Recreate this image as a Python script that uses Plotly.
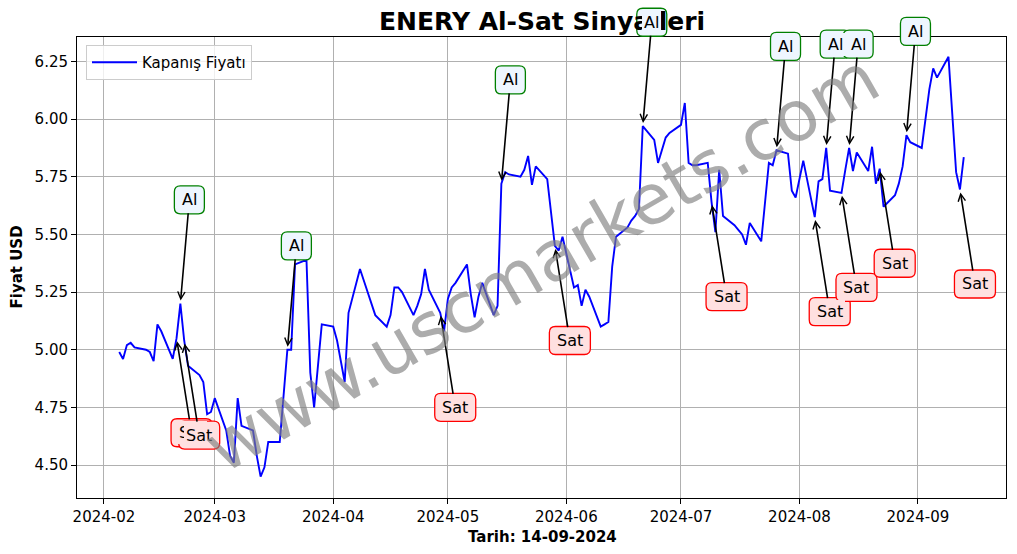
import pandas as pd
import plotly.graph_objects as go

# ---------------- data ----------------
feb = [4.99, 4.96, 5.02, 5.03, 5.01, 5.00, 4.99, 4.95, 5.11, 5.08,
       4.96, 5.05, 5.20, 5.04, 4.93, 4.89, 4.86, 4.72, 4.73]
mar = [4.79, 4.65, 4.54, 4.51, 4.79, 4.67, 4.65, 4.54, 4.45, 4.49,
       4.60, 4.60, 4.80, 5.00, 5.00, 5.37, 5.39, 4.90, 4.75, 4.93, 5.11]
apr = [5.10, 5.04, 4.95, 4.86, 5.16, 5.35, 5.30, 5.25, 5.20, 5.15,
       5.10, 5.15, 5.27, 5.27, 5.25, 5.15, 5.19, 5.24, 5.35, 5.26,
       5.16, 5.08]
may = [5.22, 5.27, 5.29, 5.37, 5.24, 5.14, 5.23, 5.29, 5.15, 5.19,
       5.72, 5.77, 5.76, 5.75, 5.78, 5.84, 5.715, 5.795, 5.74, 5.60,
       5.45, 5.43, 5.49]
jun = [5.27, 5.28, 5.19, 5.26, 5.23, 5.10, 5.11, 5.12, 5.36, 5.49,
       5.53, 5.56, 5.58, 5.61, 5.97, 5.91, 5.81, 5.86, 5.92, 5.94]
jul = [5.975, 6.07, 5.81, 5.80, 5.80, 5.81, 5.64, 5.51, 5.78, 5.58,
       5.54, 5.52, 5.50, 5.455, 5.55, 5.47, 5.64, 5.81, 5.80, 5.865,
       5.85, 5.69, 5.66]
aug = [5.74, 5.82, 5.575, 5.73, 5.74, 5.875, 5.69, 5.68, 5.78, 5.875,
       5.775, 5.855, 5.775, 5.88, 5.72, 5.785, 5.62, 5.67, 5.72, 5.795,
       5.93, 5.90]
sep = [5.875, 6.01, 6.13, 6.22, 6.18, 6.27, 6.00, 5.77, 5.695, 5.835]

first_day = "2024-02-05"
last_day = "2024-09-13"

al_dates = ["2024-02-21", "2024-03-20", "2024-05-15", "2024-06-21",
            "2024-07-26", "2024-08-08", "2024-08-14", "2024-08-29"]
sat_dates = ["2024-02-20", "2024-02-22", "2024-04-29", "2024-05-29",
             "2024-07-09", "2024-08-05", "2024-08-12", "2024-08-22",
             "2024-09-12"]

title_text = "ENERY Al-Sat Sinyalleri"
x_title = "Tarih: 14-09-2024"
y_title = "Fiyat USD"
legend_name = "Kapanış Fiyatı"
watermark = "www.uscmarkets.com"
y_ticks = [4.50, 4.75, 5.00, 5.25, 5.50, 5.75, 6.00, 6.25]

# ---------------- figure ----------------
dates = pd.bdate_range(first_day, last_day)
close = feb + mar + apr + may + jun + jul + aug + sep
series = pd.Series(close, index=dates)

W, H = 1017, 554
ML, MR, MT, MB = 77, 11, 37, 56
plot_w = W - ML - MR
plot_h = H - MT - MB
x_range = [pd.Timestamp("2024-01-24 22:48"), pd.Timestamp("2024-09-24 01:12")]
y_range = [4.357, 6.356]
px_per_unit = plot_h / (y_range[1] - y_range[0])

FONT = "DejaVu Sans"


def x_frac(ts):
    return (ts - x_range[0]) / (x_range[1] - x_range[0])


def y_frac(v):
    return (v - y_range[0]) / (y_range[1] - y_range[0])


def rounded_box(cx, cy, w, h, r):
    """SVG path (pixel offsets, y up) of a rounded rectangle."""
    x0, x1 = cx - w / 2, cx + w / 2
    y0, y1 = cy - h / 2, cy + h / 2
    return (f"M{x0 + r},{y0} L{x1 - r},{y0} Q{x1},{y0} {x1},{y0 + r} "
            f"L{x1},{y1 - r} Q{x1},{y1} {x1 - r},{y1} "
            f"L{x0 + r},{y1} Q{x0},{y1} {x0},{y1 - r} "
            f"L{x0},{y0 + r} Q{x0},{y0} {x0 + r},{y0} Z")


fig = go.Figure()
fig.add_trace(go.Scatter(
    x=series.index, y=series.values, mode="lines", name=legend_name,
    line=dict(color="blue", width=1.9), showlegend=True))

annotations = []
shapes = []

signals = [(d, "Al") for d in al_dates] + [(d, "Sat") for d in sat_dates]
signals.sort(key=lambda t: t[0])
for d, kind in signals:
    ts = pd.Timestamp(d)
    price = float(series.loc[ts])
    if kind == "Al":
        ax, ay = 9, -0.45 * px_per_unit
        bg, bc, bw = "#eef6ff", "green", 30
    else:
        ax, ay = 15, 0.41 * px_per_unit
        bg, bc, bw = "#ffe0e0", "red", 41
    shapes.append(dict(
        type="path", xref="paper", yref="paper",
        xsizemode="pixel", ysizemode="pixel",
        xanchor=x_frac(ts), yanchor=y_frac(price),
        path=rounded_box(ax, -ay, bw, 28, 6),
        fillcolor=bg, line=dict(color=bc, width=1.3), layer="above"))
    annotations.append(dict(
        x=ts, y=price, xref="x", yref="y", text=kind,
        showarrow=True, arrowhead=5, arrowsize=0.9, arrowwidth=1.6,
        arrowcolor="black", ax=ax, ay=ay, standoff=3, startstandoff=2,
        font=dict(family=FONT, size=16, color="black"),
        bgcolor=bg, borderwidth=0, borderpad=2))

# watermark
annotations.append(dict(
    text=watermark, xref="paper", yref="paper", x=0.5, y=0.51,
    xanchor="center", yanchor="middle",
    showarrow=False, textangle=-30,
    font=dict(family=FONT, size=70, color="rgba(128,128,128,0.65)")))

# axis titles as annotations at the reference positions
annotations.append(dict(
    text=f"<b>{y_title}</b>", xref="paper", yref="paper",
    x=(16 - ML) / plot_w, y=0.5, xanchor="center", yanchor="middle",
    showarrow=False, textangle=-90,
    font=dict(family=FONT, size=15, color="black")))
annotations.append(dict(
    text=f"<b>{x_title}</b>", xref="paper", yref="paper",
    x=(542 - ML) / plot_w, y=-(537 - (H - MB)) / plot_h,
    xanchor="center", yanchor="middle", showarrow=False,
    font=dict(family=FONT, size=15, color="black")))

fig.update_layout(
    width=W, height=H,
    margin=dict(l=ML, r=MR, t=MT, b=MB, autoexpand=False),
    paper_bgcolor="white", plot_bgcolor="white",
    font=dict(family=FONT, size=15, color="black"),
    title=dict(text=f"<b>{title_text}</b>", x=542 / W, xanchor="center",
               y=1 - 21 / H, yanchor="middle", yref="container",
               font=dict(family=FONT, size=25, color="black")),
    legend=dict(x=(86 - ML) / plot_w, y=(H - MB - 45) / plot_h,
                xanchor="left", yanchor="top", itemwidth=45,
                bgcolor="rgba(255,255,255,0.8)", bordercolor="#cccccc",
                borderwidth=1, font=dict(family=FONT, size=15)),
    annotations=annotations,
    shapes=shapes,
    showlegend=True,
)

fig.update_xaxes(
    type="date", range=x_range,
    dtick="M1", tick0="2024-02-01", tickformat="%Y-%m",
    showgrid=True, gridcolor="#b0b0b0", gridwidth=0.8,
    showline=True, linecolor="black", linewidth=1, mirror=True,
    ticks="outside", ticklen=5, tickcolor="black",
    tickfont=dict(family=FONT, size=15, color="black"),
    zeroline=False, automargin=False)
fig.update_yaxes(
    range=y_range, tickvals=y_ticks, tickformat=".2f",
    showgrid=True, gridcolor="#b0b0b0", gridwidth=0.8,
    showline=True, linecolor="black", linewidth=1, mirror=True,
    ticks="outside", ticklen=5, tickcolor="black",
    tickfont=dict(family=FONT, size=15, color="black"),
    zeroline=False, automargin=False)

fig.write_html("out.html",
               config={"displayModeBar": False},
               post_script="document.body.style.margin='0px';"
                           "document.body.style.overflow='hidden';")
